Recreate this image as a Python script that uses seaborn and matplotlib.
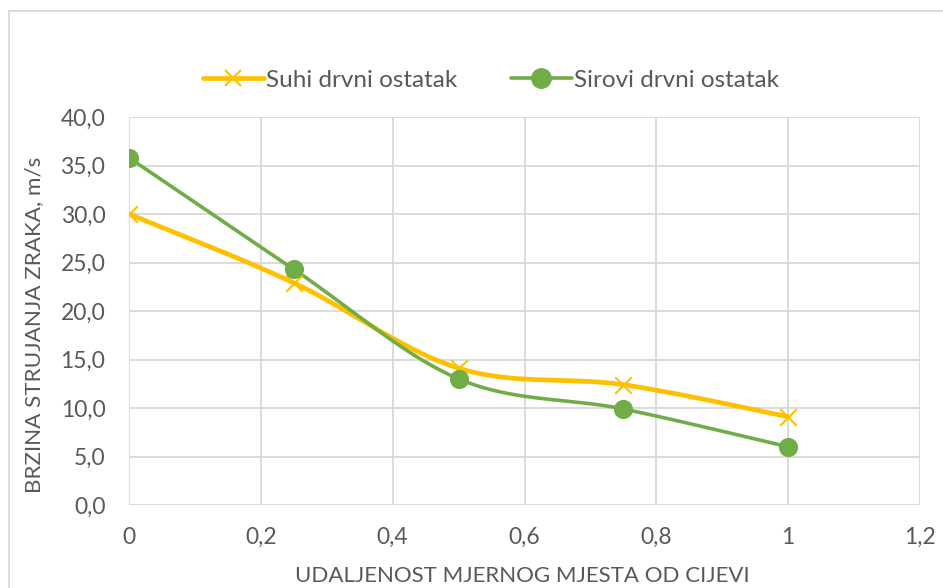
import numpy as np
import pandas as pd
import matplotlib
matplotlib.use("Agg")
import matplotlib.pyplot as plt
import seaborn as sns
from matplotlib.lines import Line2D
from matplotlib.patches import Rectangle

# ---- data ----
x_vals = [0, 0.25, 0.5, 0.75, 1]
suhi = [30.0, 22.9, 14.1, 12.4, 9.1]
sirovi = [35.8, 24.3, 13.0, 9.9, 6.0]
series_names = ["Suhi drvni ostatak", "Sirovi drvni ostatak"]
x_ticks = [0, 0.2, 0.4, 0.6, 0.8, 1.0, 1.2]
x_tick_labels = ["0", "0,2", "0,4", "0,6", "0,8", "1", "1,2"]
y_ticks = [0, 5, 10, 15, 20, 25, 30, 35, 40]
y_tick_labels = ["0,0", "5,0", "10,0", "15,0", "20,0", "25,0", "30,0", "35,0", "40,0"]
x_label = "UDALJENOST MJERNOG MJESTA OD CIJEVI"
y_label = "BRZINA STRUJANJA ZRAKA, m/s"

colors = {"Suhi drvni ostatak": "#FFC000", "Sirovi drvni ostatak": "#70AD47"}


def smooth(xs, ys, n=40):
    """Excel-like smoothed line: Catmull-Rom Bezier through the data points."""
    P = np.column_stack([xs, ys]).astype(float)
    out = []
    for i in range(len(P) - 1):
        p0 = P[i - 1] if i > 0 else P[i]
        p1, p2 = P[i], P[i + 1]
        p3 = P[i + 2] if i + 2 < len(P) else P[i + 1]
        c1 = p1 + (p2 - p0) / 6.0
        c2 = p2 - (p3 - p1) / 6.0
        t = np.linspace(0, 1, n, endpoint=(i == len(P) - 2))[:, None]
        seg = ((1 - t) ** 3) * p1 + 3 * ((1 - t) ** 2) * t * c1 + 3 * (1 - t) * t ** 2 * c2 + t ** 3 * p2
        out.append(seg)
    return np.vstack(out)


pts = pd.DataFrame({
    "x": x_vals * 2,
    "y": suhi + sirovi,
    "serija": [series_names[0]] * len(x_vals) + [series_names[1]] * len(x_vals),
})
curves = []
for name, ys in zip(series_names, [suhi, sirovi]):
    c = smooth(x_vals, ys)
    curves.append(pd.DataFrame({"x": c[:, 0], "y": c[:, 1], "serija": name}))
curves = pd.concat(curves, ignore_index=True)

sns.set_theme(style="white")
plt.rcParams["font.family"] = ["Lato", "DejaVu Sans"]

fig = plt.figure(figsize=(9.43, 5.88), dpi=100)
fig.patch.set_facecolor("white")
fig.add_artist(Rectangle((9 / 943, -0.1), 1.2, 1.1 - 11 / 588,
                         transform=fig.transFigure, fill=False,
                         edgecolor="#D9D9D9", linewidth=1.3))
ax = fig.add_axes([129 / 943, 1 - 505 / 588, (920 - 129) / 943, (505 - 117) / 588])

# lines
sub = curves[curves.serija == series_names[0]]
sns.lineplot(data=sub, x="x", y="y", ax=ax, sort=False, estimator=None,
             color=colors[series_names[0]], linewidth=3.4, legend=False, zorder=3)
sub = curves[curves.serija == series_names[1]]
sns.lineplot(data=sub, x="x", y="y", ax=ax, sort=False, estimator=None,
             color=colors[series_names[1]], linewidth=2.6, legend=False, zorder=4)

# markers
p = pts[pts.serija == series_names[0]]
sns.scatterplot(data=p, x="x", y="y", ax=ax, marker="x", s=140,
                color=colors[series_names[0]], linewidth=1.5, legend=False, zorder=5)
p = pts[pts.serija == series_names[1]]
sns.scatterplot(data=p, x="x", y="y", ax=ax, marker="o", s=190,
                color=colors[series_names[1]], edgecolor=colors[series_names[1]],
                linewidth=0, legend=False, zorder=6)

ax.set_xlim(0, 1.2)
ax.set_ylim(0, 40)
ax.set_xticks(x_ticks)
ax.set_xticklabels(x_tick_labels)
ax.set_yticks(y_ticks)
ax.set_yticklabels(y_tick_labels)
ax.grid(True, color="#D9D9D9", linewidth=1.3)
ax.set_axisbelow(True)
for s in ax.spines.values():
    s.set_visible(False)
ax.tick_params(axis="both", length=0, labelsize=16.5, labelcolor="#595959")
ax.tick_params(axis="y", pad=17)
ax.tick_params(axis="x", pad=16)
ax.set_xlabel("")
ax.set_ylabel("")
fig.text(522 / 943, 1 - 576 / 588, x_label, ha="center", va="center",
         fontsize=16, color="#595959")
fig.text(34 / 943, 1 - 325 / 588, y_label, ha="center", va="center",
         rotation=90, fontsize=16.2, color="#595959")

handles = [
    Line2D([], [], color=colors[series_names[0]], linewidth=3.4, marker="x",
           markersize=12, markeredgewidth=1.5),
    Line2D([], [], color=colors[series_names[1]], linewidth=2.6, marker="o",
           markersize=14),
]
fig.legend(handles, series_names, loc="center", bbox_to_anchor=(491 / 943, 1 - 80 / 588),
           ncol=2, frameon=False, fontsize=17.5, labelcolor="#595959",
           handlelength=2.5, handletextpad=0.1, columnspacing=2.2)

fig.savefig("out.png", dpi=100)
